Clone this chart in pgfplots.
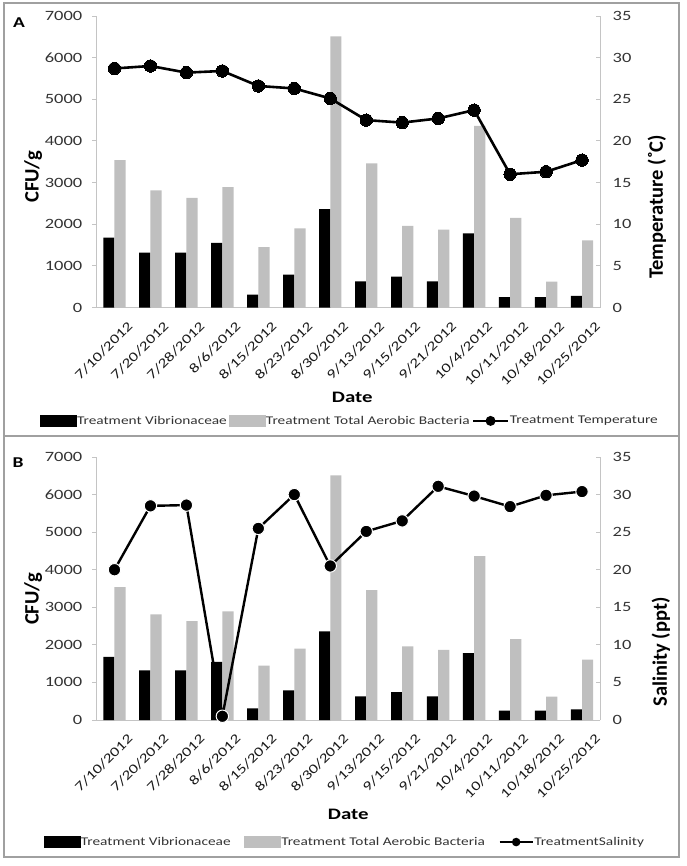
\documentclass[border=0pt]{standalone}
\usepackage{fontspec}
\setmainfont{Carlito}[FakeStretch=1.3]
\newfontfamily\vfont{Carlito}
\usepackage{pgfplots}
\usepackage{pgfplotstable}
\pgfplotsset{compat=1.18}
\definecolor{barg}{HTML}{BFBFBF}
\definecolor{axg}{HTML}{C4C4C4}
\definecolor{boxg}{HTML}{A0A0A0}
\definecolor{tickc}{HTML}{333333}

\pgfplotstableread{
x vib tab temp sal
0 1680 3540 28.7 20.0
1 1320 2810 29.0 28.5
2 1320 2630 28.2 28.6
3 1550 2890 28.4 0.5
4 310 1450 26.6 25.5
5 790 1900 26.3 30.0
6 2360 6510 25.1 20.5
7 630 3460 22.5 25.1
8 740 1960 22.2 26.5
9 630 1870 22.7 31.1
10 1780 4360 23.7 29.8
11 250 2150 16.0 28.4
12 250 620 16.3 29.9
13 280 1610 17.7 30.4
}\data

\pgfplotsset{
  common/.style={
    scale only axis, width=503.5pt,
    xmin=-0.5, xmax=13.5, ymin=0,
    axis line style={draw=axg, line width=0.9pt},
    /pgf/number format/assume math mode=true,
    /pgf/number format/1000 sep={},
    clip=false,
  },
  leftax/.style={common,
    axis x line*=bottom, axis y line*=left,
    ymax=7000, ytick={0,1000,...,7000},
    xtick={0,...,13},
    xticklabels={7/10/2012,7/20/2012,7/28/2012,8/6/2012,8/15/2012,8/23/2012,8/30/2012,9/13/2012,9/15/2012,9/21/2012,10/4/2012,10/11/2012,10/18/2012,10/25/2012},
    x tick style={draw=none},
    y tick style={draw=axg, line width=0.9pt},
    major tick length=4pt, tick align=outside,
    yticklabel style={font=\fontsize{14.2}{14.2}\selectfont, text=tickc, inner sep=0pt, xshift=-10pt},
    xticklabel style={font=\fontsize{13.4}{13.4}\selectfont, text=black!90, rotate=45, anchor=north east, inner sep=0pt, xshift=2.5pt, yshift=-15pt},
    xlabel={Date},
    ylabel={CFU/g},
  },
  rightax/.style={common,
    axis x line=none, axis y line*=right,
    ymax=35, ytick={0,5,...,35},
    y tick style={draw=axg, line width=0.9pt},
    major tick length=4pt, tick align=inside,
    yticklabel style={font=\fontsize{14.2}{14.2}\selectfont, text=tickc, inner sep=0pt, xshift=12.5pt},
    legend columns=3,
  },
}

\begin{document}
\begin{tikzpicture}
\path[use as bounding box] (0pt,0pt) rectangle (686pt,-866pt);
\draw[boxg, line width=1.6pt] (4pt,-3pt) rectangle (679pt,-857pt);
\draw[boxg, line width=1.6pt] (4pt,-436pt) -- (679pt,-436pt);
\node[font=\bfseries\fontsize{15}{15}\selectfont] at (19pt,-23pt) {A};
\node[font=\bfseries\fontsize{15}{15}\selectfont] at (18pt,-463pt) {B};

% ---------- Panel A ----------
\begin{axis}[leftax,
  at={(96.5pt,-307.5pt)}, anchor=south west, height=291.5pt,
  xlabel style={font=\bfseries\fontsize{16}{16}\selectfont, anchor=center, at={(axis description cs:0.508,-0.307)}},
  ylabel style={font=\vfont\bfseries\fontsize{20.5}{20.5}\selectfont, anchor=center, at={(axis description cs:-0.126,0.448)}},
]
\addplot[ybar, bar width=11.2pt, bar shift=-5.6pt, fill=black, draw=none] table[x=x,y=vib]{\data};
\addplot[ybar, bar width=11.2pt, bar shift=5.6pt, fill=barg, draw=none] table[x=x,y=tab]{\data};
\end{axis}
\begin{axis}[rightax,
  at={(96.5pt,-307.5pt)}, anchor=south west, height=291.5pt,
  ylabel={Temperature (\char"02DA\relax C)},
  ylabel style={font=\vfont\bfseries\fontsize{20.5}{20.5}\selectfont, anchor=center, at={(axis description cs:1.113,0.345)}},
  legend style={draw=none, fill=none, inner sep=0pt, outer sep=0pt, anchor=center,
    at={(axis description cs:0.502,-0.389)},
    font=\fontsize{11.8}{11.8}\selectfont, text=tickc,
    nodes={inner sep=0.6pt},
    /tikz/every even column/.append style={column sep=1.5pt}},
]
\addlegendimage{legend image code/.code={\fill[black] (0pt,-5.5pt) rectangle (36pt,5.5pt);}}
\addlegendentry{Treatment Vibrionaceae}
\addlegendimage{legend image code/.code={\fill[barg] (0pt,-5.5pt) rectangle (36pt,5.5pt);}}
\addlegendentry{Treatment Total Aerobic Bacteria}
\addplot[black, line width=2.6pt, mark=*, mark size=6.2pt, mark options={fill=black, draw=black, line width=0pt},
  legend image code/.code={\draw[black, line width=2.4pt] (0pt,0pt) -- (35pt,0pt); \fill[black] (17.5pt,0pt) circle (3.6pt);}]
  table[x=x,y=temp]{\data};
\addlegendentry{Treatment Temperature}
\end{axis}

% ---------- Panel B ----------
\begin{axis}[leftax,
  at={(96.5pt,-720pt)}, anchor=south west, height=263pt,
  xlabel style={font=\bfseries\fontsize{16}{16}\selectfont, anchor=center, at={(axis description cs:0.500,-0.357)}},
  ylabel style={font=\vfont\bfseries\fontsize{20.5}{20.5}\selectfont, anchor=center, at={(axis description cs:-0.126,0.46)}},
]
\addplot[ybar, bar width=11.2pt, bar shift=-5.6pt, fill=black, draw=none] table[x=x,y=vib]{\data};
\addplot[ybar, bar width=11.2pt, bar shift=5.6pt, fill=barg, draw=none] table[x=x,y=tab]{\data};
\end{axis}
\begin{axis}[rightax,
  at={(96.5pt,-720pt)}, anchor=south west, height=263pt,
  ylabel={Salinity (ppt)},
  ylabel style={font=\vfont\bfseries\fontsize{20.5}{20.5}\selectfont, anchor=center, at={(axis description cs:1.121,0.259)}},
  legend style={draw=none, fill=none, inner sep=0pt, outer sep=0pt, anchor=center,
    at={(axis description cs:0.492,-0.464)},
    font=\fontsize{11.8}{11.8}\selectfont, text=tickc,
    nodes={inner sep=0.6pt},
    /tikz/every even column/.append style={column sep=13pt}},
]
\addlegendimage{legend image code/.code={\fill[black] (0pt,-5.5pt) rectangle (36pt,5.5pt);}}
\addlegendentry{Treatment Vibrionaceae}
\addlegendimage{legend image code/.code={\fill[barg] (0pt,-5.5pt) rectangle (36pt,5.5pt);}}
\addlegendentry{Treatment Total Aerobic Bacteria}
\addplot[black, line width=2.4pt, mark=*, mark size=6.2pt, mark options={fill=black, draw=white, line width=1pt},
  legend image code/.code={\draw[black, line width=2pt] (0pt,0pt) -- (33pt,0pt); \fill[black] (16.5pt,0pt) circle (3pt);}]
  table[x=x,y=sal]{\data};
\addlegendentry{TreatmentSalinity}
\end{axis}
\end{tikzpicture}
\end{document}
